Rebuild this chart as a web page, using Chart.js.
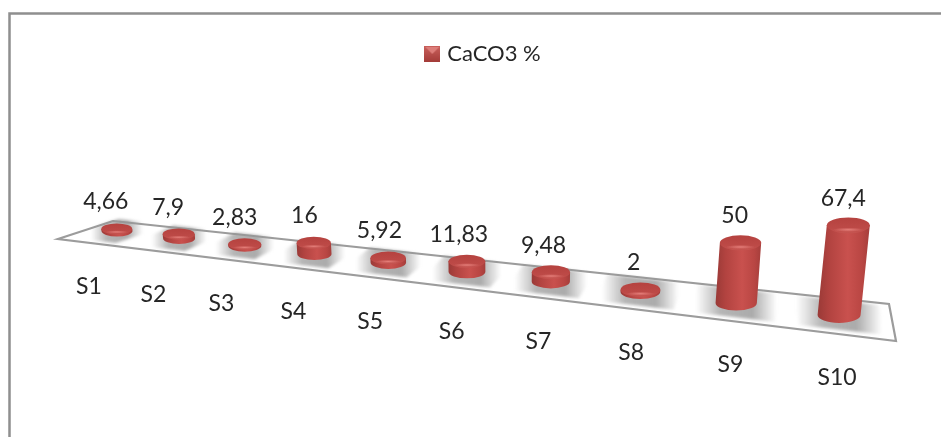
<!DOCTYPE html>
<html>
<head>
<meta charset="utf-8">
<title>CaCO3 %</title>
<script src="https://cdn.jsdelivr.net/npm/chart.js@4"></script>
<style>
  html, body { margin: 0; background: #fff; }
  canvas { display: block; }
</style>
</head>
<body>
<canvas id="myChart" width="941" height="437"></canvas>
<script>
const categories = ["S1", "S2", "S3", "S4", "S5", "S6", "S7", "S8", "S9", "S10"];
const caco3Values = [4.66, 7.9, 2.83, 16, 5.92, 11.83, 9.48, 2, 50, 67.4];
const seriesName = "CaCO3 %";

// corners of the tilted floor: back-left, back-right, front-right, front-left
const floorQuad = [[113, 221], [889, 304], [896, 341], [58, 239]];
const FONT = "Lato";

// position along the floor (0..1) -> screen x of the centre line, with perspective
function footX(u) {
  return (563.7 * u + 87.23) / (1 - 0.2714 * u);
}

function legendSwatch() {
  const c = document.createElement("canvas");
  c.width = c.height = 16;
  const g = c.getContext("2d");
  const grad = g.createLinearGradient(0, 0, 0, 16);
  grad.addColorStop(0, "#c9605c");
  grad.addColorStop(1, "#a33b38");
  g.fillStyle = grad;
  g.fillRect(0, 0, 16, 16);
  g.fillStyle = "#dc7d79";
  g.beginPath();
  g.moveTo(1, 1); g.lineTo(15, 1); g.lineTo(8, 8);
  g.fill();
  return c;
}

function drawCylinder(ctx, bx, by, rx, ry, h, lean) {
  const tx = bx + lean * h, ty = by - h;
  const left = Math.min(bx, tx) - rx, right = Math.max(bx, tx) + rx;
  const side = ctx.createLinearGradient(left, 0, right, 0);
  side.addColorStop(0, "#9a3a37");
  side.addColorStop(0.22, "#b24340");
  side.addColorStop(0.58, "#c9514e");
  side.addColorStop(0.85, "#b94643");
  side.addColorStop(1, "#a53e3b");
  ctx.fillStyle = side;
  ctx.beginPath();
  ctx.moveTo(tx - rx, ty);
  ctx.lineTo(tx + rx, ty);
  ctx.lineTo(bx + rx, by);
  ctx.ellipse(bx, by, rx, ry, 0, 0, Math.PI);
  ctx.closePath();
  ctx.fill();

  // top face with its lit bevel
  const top = ctx.createLinearGradient(0, ty - ry, 0, ty + ry);
  top.addColorStop(0, "#b5423f");
  top.addColorStop(0.7, "#bd4a47");
  top.addColorStop(1, "#c65551");
  ctx.fillStyle = top;
  ctx.beginPath();
  ctx.ellipse(tx, ty, rx, ry, 0, 0, Math.PI * 2);
  ctx.fill();
  ctx.save();
  ctx.beginPath();
  ctx.ellipse(tx, ty, rx, ry, 0, 0, Math.PI * 2);
  ctx.clip();
  ctx.translate(tx, ty + ry * 0.55);
  ctx.scale(1, 0.14);
  const glow = ctx.createRadialGradient(0, 0, 0, 0, 0, rx * 0.7);
  glow.addColorStop(0, "rgba(235,135,130,.85)");
  glow.addColorStop(1, "rgba(235,135,130,0)");
  ctx.fillStyle = glow;
  ctx.fillRect(-rx, -rx, rx * 2, rx * 2);
  ctx.restore();
}

// screen geometry of one foot on the floor
function footOf(bar, area) {
  const u = (bar.x - area.left) / area.width;
  const bx = footX(u);
  const by = 231 + (bx - 117) * 0.1163;
  const t = (bx - 117) / 722; // things get larger towards the right hand end
  return { bx, by, t };
}

const floorPlugin = {
  id: "floor",
  beforeDraw(chart) {
    const ctx = chart.ctx;
    // outer frame, top and left only
    ctx.save();
    ctx.strokeStyle = "#8f8f8f";
    ctx.lineWidth = 2.5;
    ctx.beginPath();
    ctx.moveTo(9.5, 437);
    ctx.lineTo(9.5, 13.5);
    ctx.lineTo(941, 13.5);
    ctx.stroke();
    ctx.restore();
  },
  beforeDatasetsDraw(chart) {
    const ctx = chart.ctx, area = chart.chartArea;
    const meta = chart.getDatasetMeta(0);
    ctx.save();
    ctx.fillStyle = "#fff";
    ctx.strokeStyle = "#9c9c9c";
    ctx.lineWidth = 2.2;
    ctx.beginPath();
    floorQuad.forEach((p, i) => i ? ctx.lineTo(p[0], p[1]) : ctx.moveTo(p[0], p[1]));
    ctx.closePath();
    ctx.fill();
    ctx.stroke();

    // soft shadow on the floor around each foot
    meta.data.forEach(bar => {
      const { bx, by, t } = footOf(bar, area);
      const halfW = 26 + 17 * t, halfD = 9 + 6 * t;
      const shear = -3.05 + 3.24 * Math.pow(t, 0.6); // floor's side edges fan out
      const slope = 0.1163;
      const cornerAt = (sx, sy) => [
        bx + sx * halfW - sy * shear * halfD,
        by + sx * halfW * slope - sy * halfD
      ];
      const a = cornerAt(-1, 1), b = cornerAt(1, 1), c = cornerAt(1, -1), d = cornerAt(-1, -1);
      const grad = ctx.createLinearGradient(bx - halfW, 0, bx + halfW, 0);
      grad.addColorStop(0, "rgba(150,150,150,0)");
      grad.addColorStop(0.3, "rgba(150,150,150,.7)");
      grad.addColorStop(0.7, "rgba(150,150,150,.8)");
      grad.addColorStop(1, "rgba(150,150,150,0)");
      ctx.filter = "blur(1.5px)";
      ctx.fillStyle = grad;
      ctx.beginPath();
      ctx.moveTo(a[0], a[1]); ctx.lineTo(b[0], b[1]); ctx.lineTo(c[0], c[1]); ctx.lineTo(d[0], d[1]);
      ctx.closePath();
      ctx.fill();
      ctx.filter = "none";
    });
    ctx.restore();
  },
  afterDatasetsDraw(chart) {
    const ctx = chart.ctx, area = chart.chartArea;
    const meta = chart.getDatasetMeta(0);
    ctx.save();
    ctx.textAlign = "center";
    ctx.textBaseline = "middle";
    ctx.font = "23px " + FONT;
    meta.data.forEach((bar, i) => {
      const { bx, by, t } = footOf(bar, area);
      const rx = 15.5 + 6 * t, ry = 5.5 + 2.4 * t;
      const h = (bar.base - bar.y) * (0.5 + 0.77 * (bx - 180) / 660);
      const lean = (bx - 500) / 3300;
      drawCylinder(ctx, bx, by, rx, ry, h, lean);

      const tx = bx + lean * h, ty = by - h;
      ctx.fillStyle = "#262626";
      ctx.fillText(String(caco3Values[i]).replace(".", ","), tx - 11 + 6 * t, ty - 27);
      ctx.fillText(categories[i], bx - 28 + 26 * t, by + 56 + 7 * t);
    });
    ctx.restore();
  }
};

const data = {
  labels: categories,
  datasets: [{
    label: seriesName,
    data: caco3Values,
    backgroundColor: "transparent",
    borderWidth: 0
  }]
};

const config = {
  type: "bar",
  data,
  plugins: [floorPlugin],
  options: {
    responsive: false,
    animation: false,
    layout: { padding: { left: 65, right: 37, top: 33, bottom: 100 } },
    scales: {
      x: { display: false },
      y: { display: false, min: 0, max: 250 }
    },
    plugins: {
      tooltip: { enabled: false },
      legend: {
        position: "top",
        labels: {
          usePointStyle: true,
          pointStyle: legendSwatch(),
          boxWidth: 8,
          color: "#262626",
          font: { family: FONT, size: 22 }
        }
      }
    }
  }
};

var myChart = new Chart(document.getElementById("myChart").getContext("2d"), config);
</script>
</body>
</html>
